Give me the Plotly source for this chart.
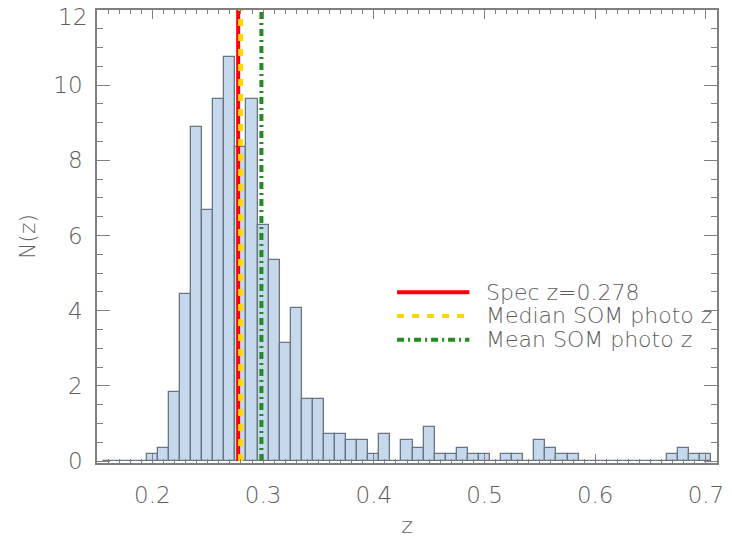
import plotly.graph_objects as go

# Bin centres (width 0.01) and normalised counts N(z)
z_centers = [0.16, 0.17, 0.18, 0.19, 0.20, 0.21, 0.22, 0.23, 0.24, 0.25,
             0.26, 0.27, 0.28, 0.29, 0.30, 0.31, 0.32, 0.33, 0.34, 0.35,
             0.36, 0.37, 0.38, 0.39, 0.40, 0.41, 0.42, 0.43, 0.44, 0.45,
             0.46, 0.47, 0.48, 0.49, 0.50, 0.51, 0.52, 0.53, 0.54, 0.55,
             0.56, 0.57, 0.58, 0.59, 0.60, 0.61, 0.62, 0.63, 0.64, 0.65,
             0.66, 0.67, 0.68, 0.69, 0.70]
n_z = [0, 0, 0, 0, 0.18, 0.36, 1.84, 4.45, 8.89, 6.67,
       9.63, 10.76, 8.35, 9.63, 6.29, 5.36, 3.13, 4.07, 1.66, 1.66,
       0.73, 0.73, 0.55, 0.55, 0.18, 0.73, 0, 0.55, 0.36, 0.92,
       0.18, 0.18, 0.36, 0.18, 0.18, 0, 0.18, 0.18, 0, 0.55,
       0.36, 0.18, 0.18, 0, 0, 0, 0, 0, 0, 0,
       0, 0.18, 0.36, 0.18, 0.18]
bin_width = 0.01

x_tickvals = [0.2, 0.3, 0.4, 0.5, 0.6, 0.7]
y_tickvals = [0, 2, 4, 6, 8, 10, 12]

spec_z = 0.2775
median_som = 0.2797
mean_som = 0.2985

legend_labels = ["Spec z=0.278", "Median SOM photo z", "Mean SOM photo z"]
line_colors = ["#ff0000", "#ffd700", "#228b22"]
line_dashes = ["solid", "7px,8px", "7px,4px,2px,4px"]
line_widths = [4, 5, 4]

FONT = "DejaVu Sans"
WEIGHT = 200
TXT = "#5e5e5e"

def fnt(size):
    return dict(family=FONT, size=size, color=TXT, weight=WEIGHT)

fig = go.Figure()
fig.add_trace(go.Bar(
    x=z_centers, y=n_z, width=bin_width,
    marker=dict(color="#c6d9ec", line=dict(color="#6b7580", width=1.3)),
    showlegend=False,
))

for xv, col, dash, w in zip([spec_z, median_som, mean_som], line_colors, line_dashes, line_widths):
    fig.add_trace(go.Scatter(
        x=[xv, xv], y=[0, 12], mode="lines",
        line=dict(color=col, width=w, dash=dash), showlegend=False,
    ))

# Manual legend (lines in paper coords + text annotations)
leg_y_px = [292, 316, 340]
plot_top, plot_bottom = 8, 464
plot_left, plot_right = 97, 723
for lbl, col, dash, ypx in zip(legend_labels, line_colors, line_dashes, leg_y_px):
    yp = (plot_bottom - ypx) / (plot_bottom - plot_top)
    x0 = (400 - plot_left) / (plot_right - plot_left)
    x1 = (473 - plot_left) / (plot_right - plot_left)
    fig.add_shape(type="line", xref="paper", yref="paper", x0=x0, x1=x1, y0=yp, y1=yp,
                  line=dict(color=col, width=4, dash=dash))
    fig.add_annotation(xref="paper", yref="paper", x=(488 - plot_left) / (plot_right - plot_left), y=yp,
                       text=lbl, showarrow=False, xanchor="left", yanchor="middle",
                       font=fnt(22))

# Top y label is nudged down (as in the original) so it stays inside the figure
y_ticktext = [str(v) for v in y_tickvals]
y_ticktext[-1] = ""
fig.add_annotation(xref="paper", yref="y", x=0, y=y_tickvals[-1], text=str(y_tickvals[-1]),
                   showarrow=False, xanchor="right", yanchor="middle", xshift=-8, yshift=-7,
                   font=fnt(23))

axis_common = dict(
    showline=True, linecolor="#808080", linewidth=1.5, mirror="allticks",
    ticks="inside", tickcolor="#808080", showgrid=False, zeroline=False,
    tickfont=fnt(23), tickmode="array",
)

fig.update_xaxes(
    range=[0.15, 0.71], tickvals=x_tickvals, ticktext=[f"{v:.1f}" for v in x_tickvals],
    ticklen=9, tickwidth=1,
    minor=dict(dtick=0.01, tick0=0.15, ticklen=4, ticks="inside", tickcolor="#808080", showgrid=False),
    title=dict(text="z", font=fnt(22), standoff=10),
    ticklabelstandoff=11,
    **axis_common,
)
fig.update_yaxes(
    range=[-0.05, 12.0], tickvals=y_tickvals, ticktext=y_ticktext,
    ticklen=13, tickwidth=1,
    minor=dict(dtick=0.5, tick0=0, ticklen=6, ticks="inside", tickcolor="#808080", showgrid=False),
    title=dict(text="N(z)", font=fnt(22), standoff=12),
    ticklabelstandoff=8,
    **axis_common,
)

fig.update_layout(
    width=732, height=542,
    margin=dict(l=97, r=9, t=8, b=78),
    plot_bgcolor="white", paper_bgcolor="white",
    bargap=0,
)

fig.write_html("out.html")
